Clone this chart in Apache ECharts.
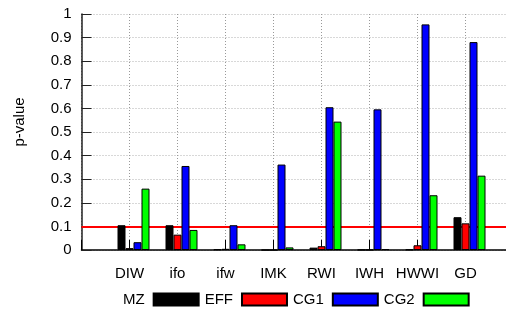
<!DOCTYPE html>
<html>
<head>
<meta charset="utf-8">
<script src="https://cdn.jsdelivr.net/npm/echarts@6/dist/echarts.min.js"></script>
<style>
    html, body { margin: 0; padding: 0; background: #fff; }
    #main { width: 506px; height: 310px; }
</style>
</head>
<body>
<div id="main"></div>
<script>
    // institutes on the x axis
    var categories = ['DIW', 'ifo', 'ifw', 'IMK', 'RWI', 'IWH', 'HWWI', 'GD'];
    // p-values per test
    var mz  = [0.105, 0.105, 0.003, 0.000, 0.010, 0.001, 0.002, 0.139];
    var eff = [0.008, 0.065, 0.005, 0.000, 0.016, 0.001, 0.020, 0.113];
    var cg1 = [0.033, 0.356, 0.105, 0.362, 0.605, 0.596, 0.956, 0.881];
    var cg2 = [0.260, 0.085, 0.024, 0.011, 0.544, 0.004, 0.232, 0.315];
    var threshold = 0.1;

    var font = 'Liberation Sans, Arial, Helvetica, sans-serif';

    function toPoints(arr) {
        return arr.map(function (v, i) { return [i + 1, v]; });
    }

    function bar(name, color, arr) {
        return {
            name: name,
            type: 'bar',
            z: 3,
            barWidth: 8,
            barGap: '0%',
            itemStyle: { color: color, borderColor: '#000', borderWidth: 1 },
            data: toPoints(arr)
        };
    }

    var chart = echarts.init(document.getElementById('main'));
    var option = {
        animation: false,
        textStyle: { fontFamily: font },
        // plot runs past the right edge, the source image is cropped there
        grid: { left: 81.5, width: 432, top: 14, height: 236, outerBoundsMode: 'none' },
        legend: {
            data: ['MZ', 'EFF', 'CG1', 'CG2'],
            left: 118,
            top: 287,
            align: 'right',
            icon: 'rect',
            itemWidth: 45,
            itemHeight: 12,
            itemGap: 5,
            textStyle: { fontSize: 15, color: '#000', fontFamily: font, padding: [0, 4, 0, 0] }
        },
        xAxis: {
            type: 'value',
            min: 0,
            max: 9,
            interval: 1,
            axisLine: { lineStyle: { color: '#000', width: 1.5 } },
            axisTick: { inside: true, length: 10, lineStyle: { color: '#000' } },
            splitLine: { show: true, lineStyle: { color: '#999', width: 1, type: [1, 2] } },
            axisLabel: {
                margin: 16,
                fontSize: 15,
                color: '#000',
                formatter: function (v) { return categories[v - 1] || ''; }
            }
        },
        yAxis: {
            type: 'value',
            min: 0,
            max: 1,
            interval: 0.1,
            name: 'p-value',
            nameLocation: 'middle',
            nameGap: 54,
            nameTextStyle: { fontSize: 15, color: '#000', padding: [0, 0, 0, 20] },
            axisLine: { show: true, lineStyle: { color: '#222', width: 1.5 } },
            axisTick: { show: true, inside: true, length: 10, lineStyle: { color: '#222' } },
            splitLine: { show: true, lineStyle: { color: '#b0b0b0', type: [1, 2] } },
            axisLabel: { margin: 10, fontSize: 15, color: '#000' }
        },
        series: [
            {
                // empty slot that nudges each cluster right, as in the source plot
                name: 'threshold',
                type: 'bar',
                barWidth: 8,
                barGap: '0%',
                data: [],
                markLine: {
                    z: 1,
                    silent: true,
                    symbol: 'none',
                    label: { show: false },
                    lineStyle: { color: '#ff0000', type: 'solid', width: 2 },
                    data: [{ yAxis: threshold }]
                }
            },
            bar('MZ', '#000000', mz),
            bar('EFF', '#ff0000', eff),
            bar('CG1', '#0000ff', cg1),
            bar('CG2', '#00ff00', cg2)
        ]
    };
    chart.setOption(option);
</script>
</body>
</html>
